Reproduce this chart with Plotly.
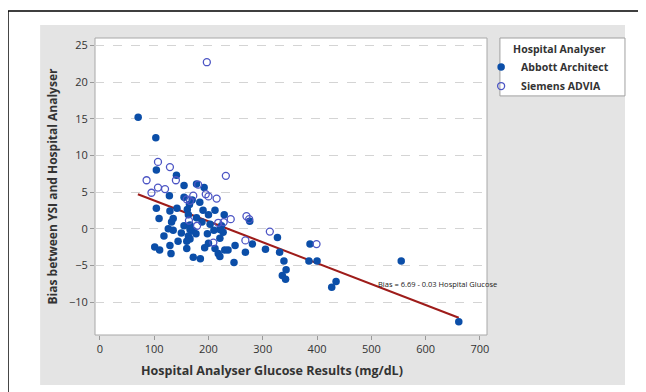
import plotly.graph_objects as go

# Abbott Architect (filled)
abbott_x = [70.5, 103, 104, 141, 155, 192, 178, 128, 155, 184, 104, 142, 129, 161, 190, 212, 229, 163, 200,
            276, 109, 135, 178, 132, 203, 155, 166, 224, 126, 135, 166, 172, 221, 227, 177, 198, 163, 118,
            221, 166, 281, 144, 200, 160, 129, 101, 193, 212, 160, 249, 110, 236, 230, 131, 218, 268, 305,
            327, 331, 221, 172, 185, 247, 339, 343, 336, 342, 387, 385, 400, 435, 427, 555, 661,
            165, 188, 150, 210, 170]
abbott_y = [15.2, 12.4, 8.0, 7.3, 5.9, 5.6, 6.1, 4.5, 4.3, 3.6, 2.8, 2.8, 2.4, 2.6, 2.5, 2.5, 1.9, 1.9, 1.9,
            1.0, 1.4, 1.4, 1.5, 0.9, 0.6, 0.4, 0.5, 0.4, 0.0, -0.2, -0.1, -0.3, -0.1, -0.5, -0.7, -0.7, -1.0, -1.0,
            -1.3, -1.4, -2.1, -1.7, -2.0, -1.7, -2.3, -2.5, -2.6, -2.7, -2.7, -2.3, -2.9, -2.9, -2.9, -3.4, -3.4, -3.2, -2.8,
            -1.2, -3.2, -3.8, -3.9, -4.1, -4.6, -4.4, -5.6, -6.4, -6.9, -2.1, -4.4, -4.4, -7.2, -8.0, -4.4, -12.7,
            3.3, 0.9, -0.6, -0.2, 3.9]

# Siemens ADVIA (hollow)
siemens_x = [197, 107, 129, 232, 86, 140, 107, 120, 181, 95, 172, 195, 200, 160, 166, 215, 270, 275, 164,
             241, 218, 228, 179, 268, 209, 313, 399]
siemens_y = [22.7, 9.1, 8.4, 7.2, 6.6, 6.6, 5.6, 5.4, 6.0, 4.9, 4.5, 4.7, 4.4, 4.0, 3.8, 4.1, 1.7, 1.3, 1.1,
             1.3, 0.8, 0.9, 0.4, -1.6, -1.9, -0.4, -2.1]

# Fitted line endpoints
fit_x = [70, 661]
fit_y = [4.7, -12.15]

x_ticks = [0, 100, 200, 300, 400, 500, 600, 700]
y_ticks = [-10, -5, 0, 5, 10, 15, 20, 25]

font = "Open Sans, Liberation Sans, sans-serif"

fig = go.Figure()
fig.add_trace(go.Scatter(x=fit_x, y=fit_y, mode="lines", line=dict(color="#9e1c1a", width=2),
                         showlegend=False, hoverinfo="skip"))
fig.add_trace(go.Scatter(x=abbott_x, y=abbott_y, mode="markers", name="<b>Abbott Architect</b>",
                         marker=dict(symbol="circle", size=7.5, color="#0b4ea8", line=dict(width=0))))
fig.add_trace(go.Scatter(x=siemens_x, y=siemens_y, mode="markers", name="<b>Siemens ADVIA</b>",
                         marker=dict(symbol="circle-open", size=7, color="#4c55c4", line=dict(width=1.3))))

shapes = [
    # outer black frame
    dict(type="rect", xref="paper", yref="paper", x0=-0.222, x1=1.390, y0=-0.25, y1=1.091,
         line=dict(color="black", width=1.5), fillcolor="white", layer="below"),
    # gray panel
    dict(type="rect", xref="paper", yref="paper", x0=-0.140, x1=1.352, y0=-0.168, y1=1.044,
         line=dict(width=0), fillcolor="#e4e4e4", layer="below"),
    # white plot area
    dict(type="rect", xref="paper", yref="paper", x0=0, x1=1, y0=0, y1=1,
         line=dict(color="#a8a8a8", width=1), fillcolor="white", layer="below"),
    # legend box
    dict(type="rect", xref="paper", yref="paper", x0=1.033, x1=1.352, y0=0.805, y1=1.0,
         line=dict(color="#a0a0a0", width=1), fillcolor="white", layer="below"),
]

fig.update_layout(
    width=646, height=392,
    margin=dict(l=87, r=167, t=30, b=65, autoexpand=False),
    paper_bgcolor="white", plot_bgcolor="white",
    font=dict(family=font, color="#333333", size=11),
    shapes=shapes,
    showlegend=True,
    legend=dict(x=0.985, y=0.997, xanchor="left", yanchor="top",
                bgcolor="rgba(0,0,0,0)", borderwidth=0,
                title=dict(text="<b>&nbsp;&nbsp;&nbsp;&nbsp;&nbsp;&nbsp;&nbsp;&nbsp;&nbsp;&nbsp;&nbsp;Hospital Analyser</b>",
                           font=dict(size=10.5, color="#333")),
                font=dict(size=10.5, color="#333"), itemwidth=30,
                tracegroupgap=0),
    annotations=[
        dict(x=508, y=-7.6, xref="x", yref="y", text="Bias = 6.69 - 0.03 Hospital Glucose",
             showarrow=False, xanchor="left", yanchor="middle",
             font=dict(size=7.5, color="#222")),
        dict(x=0.452, y=-0.118, xref="paper", yref="paper",
             text="<b>Hospital Analyser Glucose Results (mg/dL)</b>",
             showarrow=False, xanchor="center", yanchor="middle",
             font=dict(size=12.5, color="#333")),
    ],
    xaxis=dict(range=[-9, 713], tickvals=x_ticks, ticks="outside", ticklen=4, tickcolor="#999",
               showgrid=False, zeroline=False, showline=False, automargin=False,
               tickfont=dict(size=11, color="#333")),
    yaxis=dict(range=[-14.5, 26.0], tickvals=y_ticks, ticks="outside", ticklen=4, tickcolor="#999",
               showgrid=True, gridcolor="#d4d4d4", griddash="dash", gridwidth=1,
               zeroline=False, showline=False, automargin=False,
               tickfont=dict(size=11, color="#333"),
               title=dict(text="<b>Bias between YSI and Hospital Analyser</b>",
                          font=dict(size=12, color="#333"), standoff=8)),
)

fig.write_html("out.html")
